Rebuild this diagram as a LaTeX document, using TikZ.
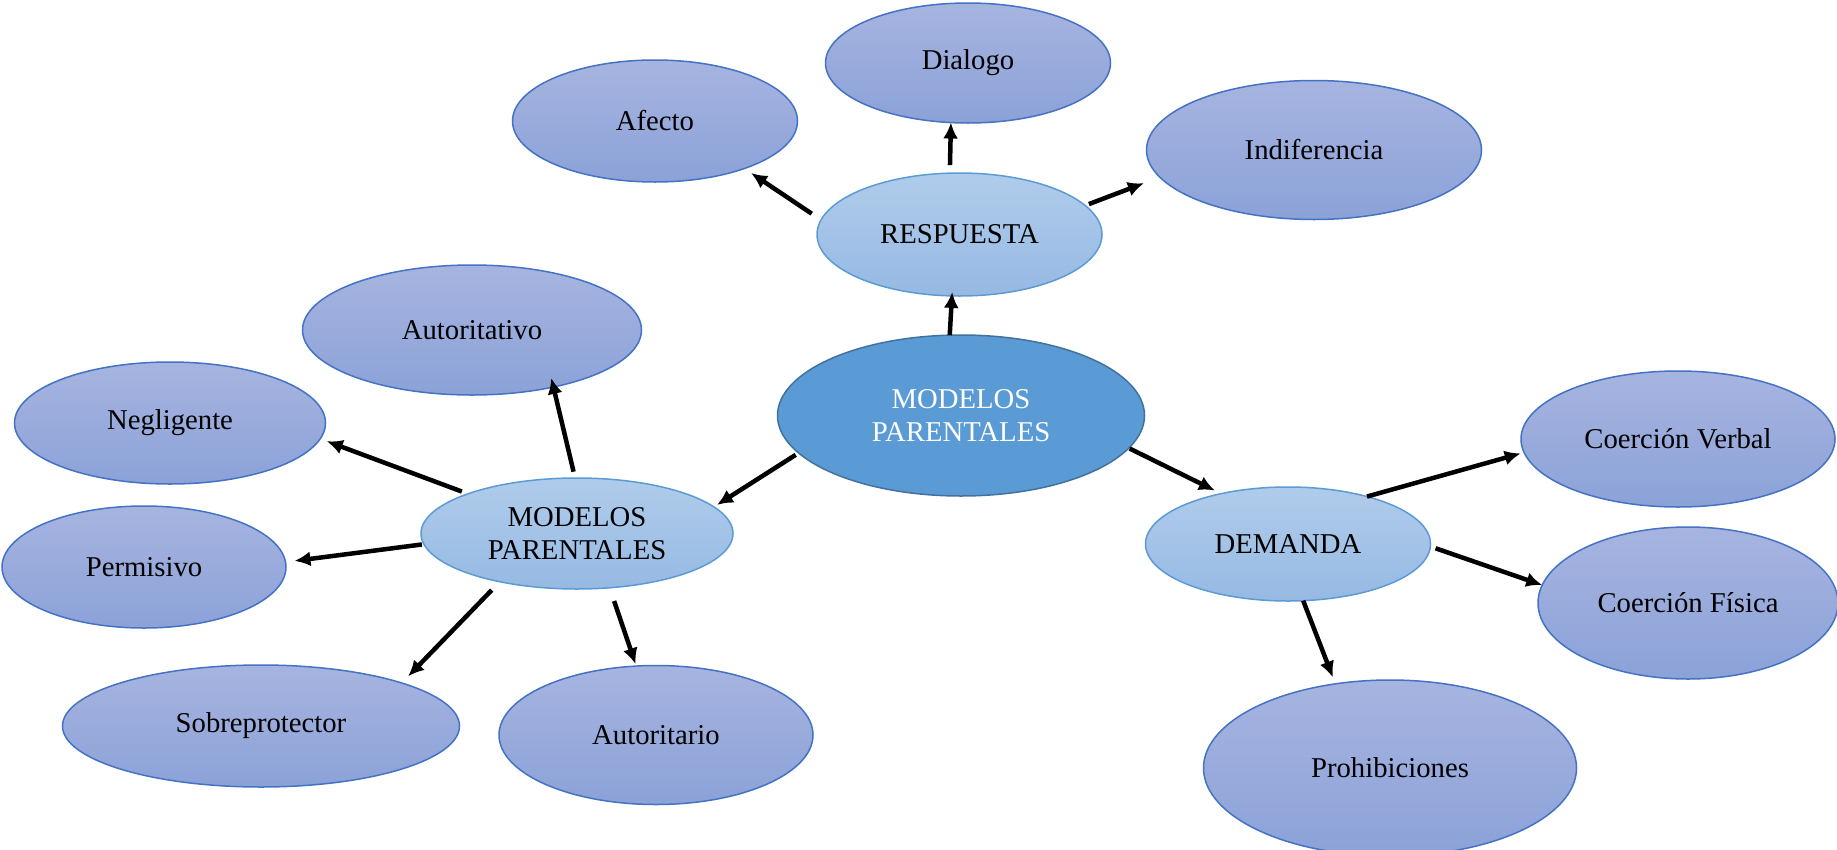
\documentclass[tikz,border=0pt]{standalone}
\usepackage{xcolor}
\usepackage{fontspec}
\setmainfont{Liberation Serif}
\usepackage{tikz}
\usetikzlibrary{positioning, shapes.geometric, arrows.meta}

\definecolor{outerTop}{HTML}{A7B4E0}
\definecolor{outerBottom}{HTML}{8BA2D8}
\definecolor{outerLine}{HTML}{4472C4}
\definecolor{midTop}{HTML}{B0CCEB}
\definecolor{midBottom}{HTML}{96B9E3}
\definecolor{midLine}{HTML}{5B9BD5}
\definecolor{rootFill}{HTML}{5B9BD5}
\definecolor{rootLine}{HTML}{41719C}

\begin{document}
\begin{tikzpicture}[x=1pt, y=-1pt]
% style: defaultEdge
\tikzstyle{defaultEdge}=[line width=4.5pt,>={Latex[length=16pt,width=15pt]}]
% style: base_style
\tikzstyle{base_style}=[ellipse,inner sep=0pt,outer sep=0pt,line width=1.5pt,align=center,font=\fontsize{28.7}{33.4}\selectfont]
% style: Root_style
\tikzstyle{Root_style}=[base_style,draw=rootLine,fill=rootFill,text=white]
% style: Branch_style
\tikzstyle{Branch_style}=[base_style,draw=midLine,top color=midTop,bottom color=midBottom]
% style: Leaf_style
\tikzstyle{Leaf_style}=[base_style,draw=outerLine,top color=outerTop,bottom color=outerBottom]

\clip (0,0) rectangle (1837,849);

% node group: root_group
% node: modelos_parentales
\node[Root_style, minimum width=367pt, minimum height=161pt] (modelos_parentales) at (961, 415.5)
    {MODELOS\\PARENTALES};
% end of node group: root_group

% node group: respuesta_group
% node: respuesta
\node[Branch_style, minimum width=285pt, minimum height=123pt] (respuesta) at (959.5, 234.5)
    {RESPUESTA};
% node: dialogo
\node[Leaf_style, minimum width=285pt, minimum height=120pt] (dialogo) at (968, 63)
    {Dialogo};
% node: afecto
\node[Leaf_style, minimum width=285pt, minimum height=122pt] (afecto) at (655, 121)
    {Afecto};
% node: indiferencia
\node[Leaf_style, minimum width=335pt, minimum height=139pt] (indiferencia) at (1314, 150)
    {Indiferencia};
% end of node group: respuesta_group

% node group: modelos_parentales_1_group
% node: modelos_parentales_1
\node[Branch_style, minimum width=312pt, minimum height=111pt] (modelos_parentales_1) at (577, 533.5)
    {MODELOS\\PARENTALES};
% node: autoritativo
\node[Leaf_style, minimum width=339pt, minimum height=130pt] (autoritativo) at (472, 330)
    {Autoritativo};
% node: negligente
\node[Leaf_style, minimum width=311pt, minimum height=122pt] (negligente) at (170, 423)
    {Negligente};
% node: permisivo
\node[Leaf_style, minimum width=284pt, minimum height=122pt] (permisivo) at (144, 567)
    {Permisivo};
% node: sobreprotector
\node[Leaf_style, minimum width=397pt, minimum height=122pt] (sobreprotector) at (261, 726)
    {Sobreprotector};
% node: autoritario
\node[Leaf_style, minimum width=314pt, minimum height=139pt] (autoritario) at (656, 735)
    {Autoritario};
% end of node group: modelos_parentales_1_group

% node group: demanda_group
% node: demanda
\node[Branch_style, minimum width=285pt, minimum height=114pt] (demanda) at (1288, 544)
    {DEMANDA};
% node: coercion_verbal
\node[Leaf_style, minimum width=314pt, minimum height=136pt] (coercion_verbal) at (1678, 439)
    {Coerción Verbal};
% node: coercion_fisica
\node[Leaf_style, minimum width=300pt, minimum height=152pt] (coercion_fisica) at (1688, 603)
    {Coerción Física};
% node: prohibiciones
\node[Leaf_style, minimum width=373pt, minimum height=176pt] (prohibiciones) at (1390, 768)
    {Prohibiciones};
% end of node group: demanda_group

% edge from modelos_parentales to respuesta
\draw[->, defaultEdge, shorten >=-4pt] (modelos_parentales.98) -- (respuesta.263);

% edge from respuesta to dialogo
\draw[->, defaultEdge, shorten <=8pt] (respuesta.99) -- (dialogo.254);

% edge from respuesta to afecto
\draw[->, defaultEdge, shorten <=11.3pt, shorten >=8.1pt] (respuesta.174) -- (afecto.332);

% edge from respuesta to indiferencia
\draw[->, defaultEdge, shorten <=4pt, shorten >=17pt] (respuesta.13) -- (indiferencia.190);

% edge from modelos_parentales to modelos_parentales_1
\draw[->, defaultEdge, shorten <=3.5pt, shorten >=3.6pt] (modelos_parentales.193) -- (modelos_parentales_1.11);

% edge from modelos_parentales to demanda
\draw[->, defaultEdge, shorten <=1pt, shorten >=7pt] (modelos_parentales.349) -- (demanda.143);

% edge from modelos_parentales_1 to autoritativo
\draw[->, defaultEdge, shorten <=6.5pt, shorten >=-9.3pt] (modelos_parentales_1.92) -- (autoritativo.325);

% edge from modelos_parentales_1 to negligente
\draw[->, defaultEdge, shorten <=6.5pt, shorten >=7pt] (modelos_parentales_1.160) -- (negligente.354);

% edge from modelos_parentales_1 to permisivo
\draw[->, defaultEdge, shorten <=2pt, shorten >=9pt] (modelos_parentales_1.184) -- (permisivo.2);

% edge from modelos_parentales_1 to sobreprotector
\draw[->, defaultEdge, shorten <=11.7pt, shorten >=9.2pt] (modelos_parentales_1.212) -- (sobreprotector.17);

% edge from modelos_parentales_1 to autoritario
\draw[->, defaultEdge, shorten <=14pt, shorten >=2pt] (modelos_parentales_1.301) -- (autoritario.106);

% edge from demanda to coercion_verbal
\draw[->, defaultEdge, shorten >=3.5pt] (demanda.31) -- (coercion_verbal.185);

% edge from demanda to coercion_fisica
\draw[->, defaultEdge, shorten <=5.5pt] (demanda.359) -- (coercion_fisica.173);

% edge from demanda to prohibiciones
\draw[->, defaultEdge, shorten >=7pt] (demanda.285) -- (prohibiciones.123);

\end{tikzpicture}
\end{document}
